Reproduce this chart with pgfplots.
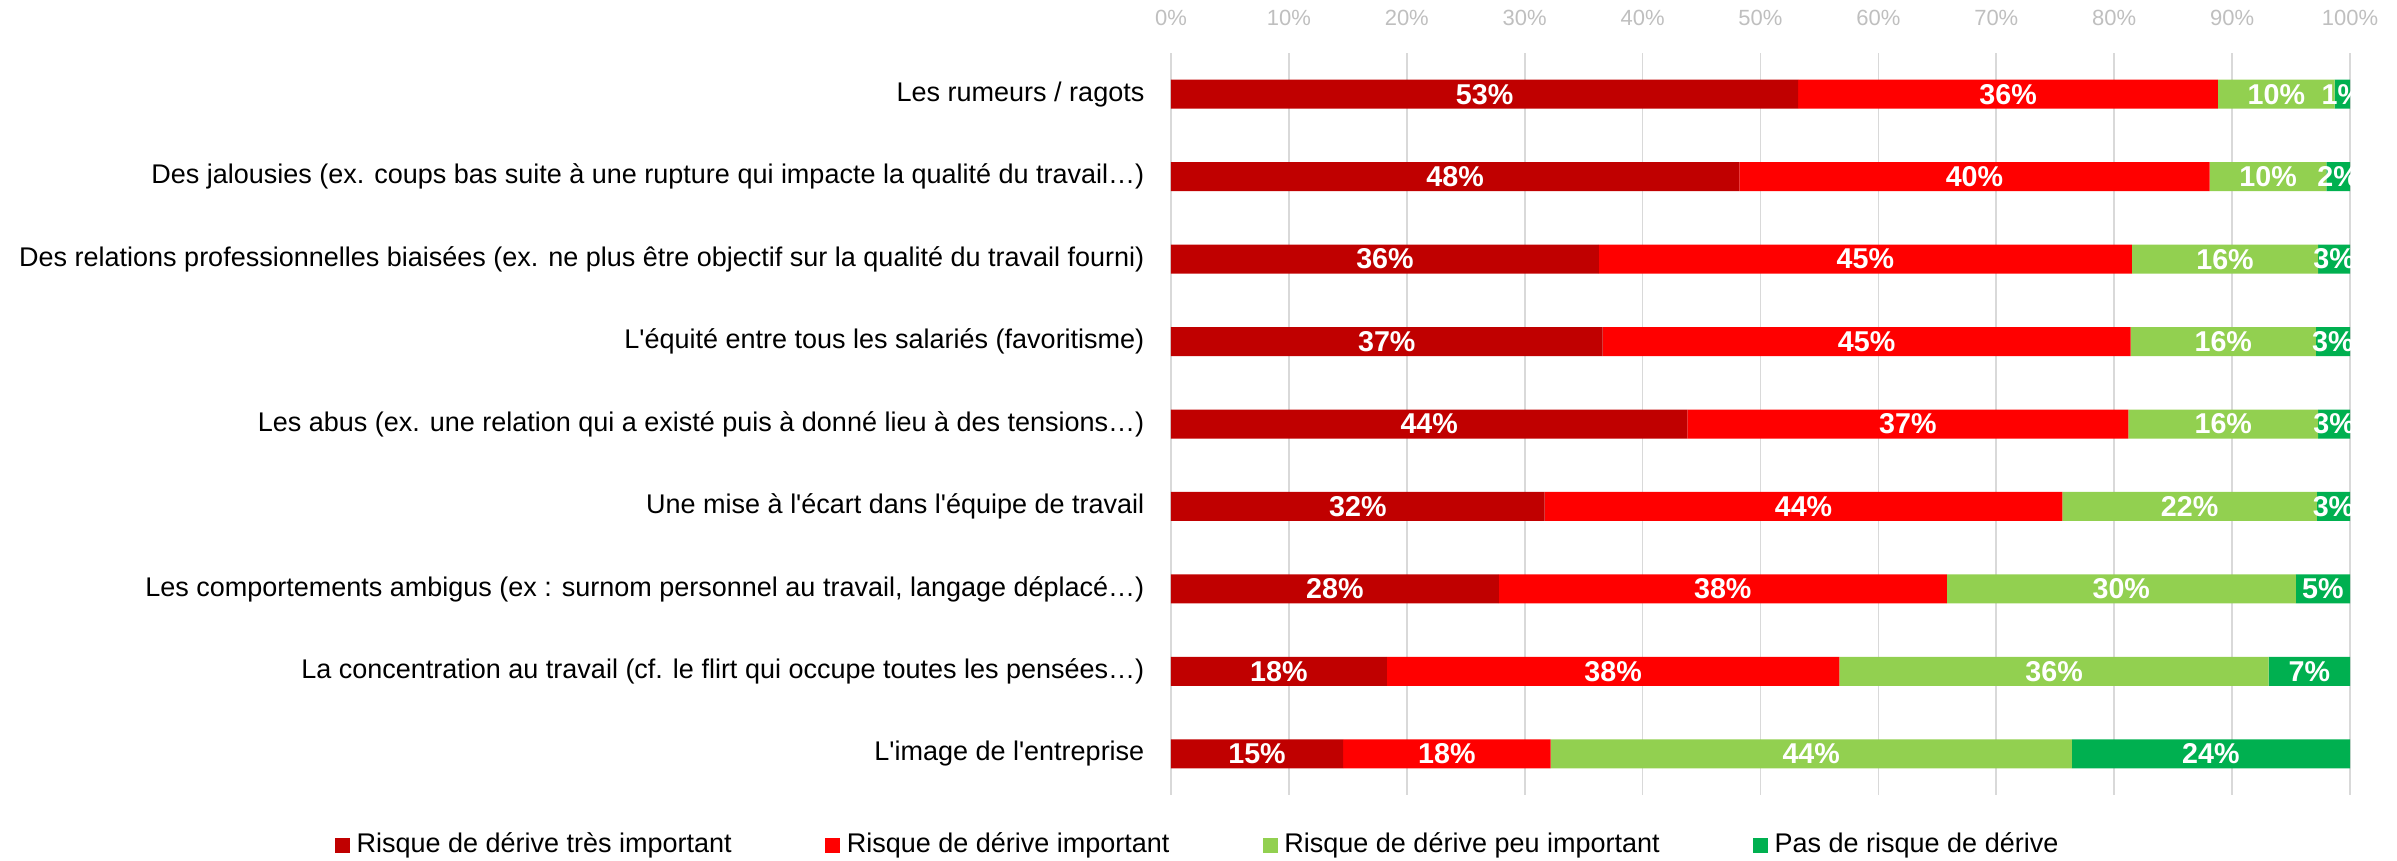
\documentclass[border=0pt]{standalone}
\usepackage{fontspec}
\setmainfont{Liberation Sans}
\usepackage{pgfplots}
\usepackage{pgfplotstable}
\pgfplotsset{compat=1.18}
\definecolor{c1}{HTML}{C00000}
\definecolor{c2}{HTML}{FF0000}
\definecolor{c3}{HTML}{92D050}
\definecolor{c4}{HTML}{00B050}
\definecolor{gridc}{HTML}{D9D9D9}
\definecolor{tickc}{HTML}{BFBFBF}
\pgfplotstableread{
y a b c d
0 53.2 35.6 9.9 1.3
1 48.2 39.9 9.9 2.0
2 36.3 45.2 15.8 2.7
3 36.6 44.8 15.7 2.9
4 43.8 37.4 16.1 2.7
5 31.7 43.9 21.6 2.8
6 27.8 38.0 29.6 4.6
7 18.3 38.4 36.4 6.9
8 14.6 17.6 44.2 23.6
}\data
\begin{document}
\begin{tikzpicture}
\useasboundingbox (-351.3pt,-19.5pt) rectangle (367.8pt,238.5pt);
\begin{axis}[
  at={(0,0)}, anchor=south west,
  width=353.7pt, height=222.6pt, scale only axis,
  xbar stacked, bar width=8.7pt,
  xmin=0, xmax=100, ymin=-0.5, ymax=8.5, y dir=reverse,
  xtick={0,10,...,100},
  xticklabel pos=upper,
  xticklabel={\pgfmathprintnumber{\tick}\%},
  /pgf/number format/assume math mode=true,
  xticklabel style={font=\fontsize{6.6}{7}\selectfont, text=tickc, anchor=center, inner sep=0pt, yshift=10.5pt},
  ytick={0,...,8},
  yticklabels={
    Les rumeurs / ragots,
    Des jalousies (ex. coups bas suite à une rupture qui impacte la qualité du travail…),
    Des relations professionnelles biaisées (ex. ne plus être objectif sur la qualité du travail fourni),
    L\textquotesingle équité entre tous les salariés (favoritisme),
    Les abus (ex. une relation qui a existé puis à donné lieu à des tensions…),
    Une mise à l\textquotesingle écart dans l\textquotesingle équipe de travail,
    {Les comportements ambigus (ex : surnom personnel au travail, langage déplacé…)},
    La concentration au travail (cf. le flirt qui occupe toutes les pensées…),
    L\textquotesingle image de l\textquotesingle entreprise\ 
  },
  yticklabel style={font=\fontsize{8.1}{9}\selectfont, text=black, anchor=east, inner sep=0pt, xshift=-7.8pt},
  xmajorgrids,
  major grid style={gridc, line width=0.5pt},
  axis line style={draw=none},
  major tick style={draw=none},
  point meta=explicit,
  nodes near coords={\pgfmathprintnumber[fixed,precision=0]{\pgfplotspointmeta}\%},
  nodes near coords style={font=\bfseries\fontsize{8.6}{9}\selectfont, text=white, anchor=center, inner sep=0pt},
  legend columns=4,
  legend style={at={(axis description cs:0.0246,-0.0674)}, anchor=center, draw=none, fill=none,
    font=\fontsize{8.1}{9}\selectfont,
    /tikz/every even column/.append style={column sep=26pt}},
  legend image code/.code={\fill[#1] (0pt,-2.25pt) rectangle (4.5pt,2.25pt);},
]
\addplot[fill=c1, draw=none] table[x=a, y=y, meta=a] {\data};
\addplot[fill=c2, draw=none] table[x=b, y=y, meta=b] {\data};
\addplot[fill=c3, draw=none] table[x=c, y=y, meta=c] {\data};
\addplot[fill=c4, draw=none] table[x=d, y=y, meta=d] {\data};
\legend{Risque de dérive très important, Risque de dérive important, Risque de dérive peu important, Pas de risque de dérive}
\end{axis}
\end{tikzpicture}
\end{document}
